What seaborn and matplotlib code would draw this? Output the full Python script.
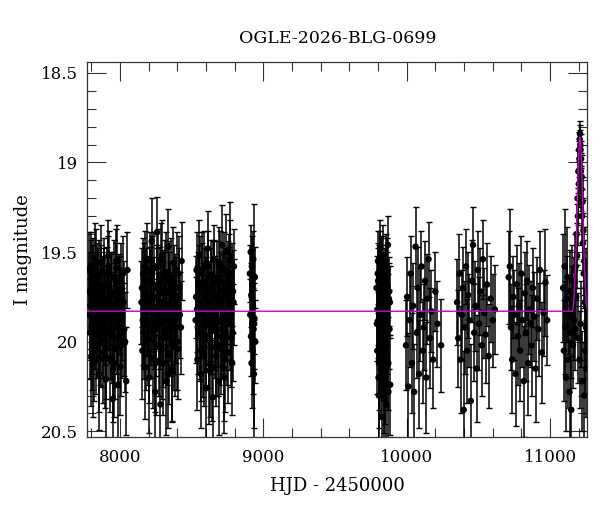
import numpy as np
import pandas as pd
import matplotlib
matplotlib.use("Agg")
import matplotlib.pyplot as plt
import seaborn as sns
from matplotlib.ticker import MultipleLocator, FormatStrFormatter

# observing seasons: HJD-2450000, I mag, error
t1 = [7786, 7791, 7795, 7800, 7804, 7809, 7813, 7818, 7823, 7828, 7832, 7838, 7843, 7849, 7854,
      7860, 7866, 7871, 7877, 7883, 7889, 7895, 7901, 7907, 7913, 7919, 7925, 7931, 7937, 7943,
      7949, 7955, 7961, 7967, 7973, 7979, 7985, 7991, 7997, 8003, 8010, 8017, 8025, 8036, 8052,
      7788, 7797, 7806, 7815, 7826, 7835, 7846, 7857, 7869, 7880, 7892, 7904, 7916, 7928, 7940,
      7952, 7964, 7976, 7988, 8000,
      7784, 7793, 7802, 7811, 7820, 7830, 7840, 7851, 7862, 7874, 7886, 7898, 7910, 7922, 7934,
      7946, 7958, 7970, 7982, 7994, 8007, 8014, 8021, 8030, 8044]
m1 = [19.72, 19.95, 19.58, 20.08, 19.81, 19.66, 20.12, 19.89, 19.54, 19.77, 20.02, 19.63, 19.91, 19.70, 20.18,
      19.84, 19.56, 19.99, 19.75, 20.06, 19.61, 19.88, 20.21, 19.69, 19.93, 19.52, 19.80, 20.10, 19.74, 19.97,
      20.32, 19.64, 19.86, 20.04, 19.59, 19.92, 20.24, 19.71, 19.83, 20.14, 19.67, 19.95, 19.78, 20.00, 19.60,
      19.85, 19.65, 20.00, 19.74, 19.90, 19.57, 19.82, 20.10, 19.68, 19.94, 19.76, 20.04, 19.62, 19.87, 19.72,
      20.15, 19.80, 19.55, 19.98, 19.75,
      19.60, 19.80, 19.92, 19.68, 20.05, 19.74, 19.86, 19.63, 19.97, 19.78, 19.70, 20.08, 19.83, 19.58, 19.95,
      19.73, 20.12, 19.66, 19.88, 19.76, 20.02, 19.85, 19.62, 19.93, 20.22]
e1 = [.22, .26, .19, .28, .21, .24, .30, .23, .20, .25, .27, .18, .29, .22, .31,
      .24, .21, .26, .23, .28, .19, .25, .32, .22, .27, .20, .24, .29, .23, .26,
      .30, .21, .25, .28, .22, .26, .31, .20, .24, .27, .22, .25, .23, .28, .21,
      .24, .22, .27, .21, .25, .20, .23, .29, .22, .26, .23, .28, .21, .25, .22,
      .30, .24, .20, .27, .23,
      .21, .24, .26, .22, .28, .23, .25, .20, .27, .24, .22, .29, .25, .20, .26,
      .23, .30, .21, .25, .23, .28, .25, .21, .26, .30]

t2 = [8150, 8156, 8162, 8168, 8174, 8180, 8186, 8192, 8198, 8204, 8210, 8216, 8222, 8228, 8234,
      8240, 8246, 8252, 8258, 8264, 8270, 8276, 8282, 8288, 8294, 8300, 8306, 8312, 8318, 8324,
      8330, 8336, 8342, 8348, 8354, 8360, 8366, 8372, 8378, 8384, 8390, 8397, 8405, 8414, 8425,
      8153, 8165, 8177, 8189, 8201, 8213, 8225, 8237, 8249, 8261, 8273, 8285, 8297, 8309, 8321,
      8333, 8345, 8357, 8369, 8381,
      8159, 8171, 8183, 8195, 8207, 8219, 8231, 8243, 8255, 8267, 8279, 8291, 8303, 8315, 8327,
      8339, 8351, 8363, 8375, 8387, 8393, 8401, 8409, 8418, 8430]
m2 = [19.78, 20.05, 19.62, 19.90, 20.14, 19.70, 19.55, 19.98, 19.83, 20.20, 19.66, 19.88, 19.44, 20.09, 19.75,
      19.59, 20.28, 19.93, 19.39, 19.81, 20.02, 19.68, 20.35, 19.86, 19.52, 20.12, 19.73, 19.96, 19.61, 20.22,
      19.84, 19.47, 20.07, 19.79, 19.64, 20.16, 19.91, 19.56, 20.00, 19.74, 19.87, 19.60, 20.04, 19.70, 19.92,
      19.70, 19.95, 19.58, 19.84, 20.06, 19.76, 19.62, 19.90, 20.12, 19.68, 19.86, 19.54, 19.98, 19.72, 19.88,
      20.18, 19.66, 19.93, 19.80, 20.03,
      19.88, 19.66, 20.00, 19.75, 19.60, 19.94, 19.82, 20.10, 19.70, 19.57, 19.90, 20.04, 19.78, 19.64, 19.97,
      19.72, 19.86, 20.14, 19.68, 19.92, 19.76, 20.00, 19.62, 19.85, 19.55]
e2 = [.23, .27, .20, .25, .29, .22, .21, .26, .24, .31, .19, .25, .24, .28, .22,
      .20, .32, .26, .20, .23, .28, .21, .30, .25, .20, .29, .23, .27, .22, .30,
      .24, .21, .28, .23, .22, .29, .26, .20, .27, .23, .25, .21, .28, .22, .26,
      .22, .26, .20, .24, .28, .23, .21, .25, .29, .22, .25, .20, .27, .23, .24,
      .30, .22, .26, .24, .27,
      .25, .21, .27, .23, .21, .26, .24, .29, .22, .20, .25, .28, .23, .21, .27,
      .22, .25, .30, .22, .26, .23, .27, .21, .24, .22]

t3 = [8528, 8534, 8540, 8546, 8552, 8558, 8564, 8570, 8576, 8582, 8588, 8594, 8600, 8606, 8612,
      8618, 8624, 8630, 8636, 8642, 8648, 8654, 8660, 8666, 8672, 8678, 8684, 8690, 8696, 8702,
      8708, 8714, 8720, 8726, 8732, 8738, 8744, 8750, 8756, 8762, 8768, 8774, 8780, 8786, 8792,
      8531, 8543, 8555, 8567, 8579, 8591, 8603, 8615, 8627, 8639, 8651, 8663, 8675, 8687, 8699,
      8711, 8723, 8735, 8747, 8759,
      8537, 8549, 8561, 8573, 8585, 8597, 8609, 8621, 8633, 8645, 8657, 8669, 8681, 8693, 8705,
      8717, 8729, 8741, 8753, 8765, 8771, 8777, 8783, 8789, 8795]
m3 = [19.88, 19.60, 20.10, 19.73, 19.52, 19.96, 20.18, 19.67, 19.84, 20.04, 19.57, 19.91, 20.26, 19.70, 19.48,
      19.99, 19.79, 20.13, 19.63, 19.86, 20.31, 19.54, 19.94, 19.75, 20.08, 19.65, 19.89, 20.22, 19.58, 19.81,
      20.02, 19.46, 19.92, 20.15, 19.71, 19.50, 19.97, 19.77, 20.06, 19.62, 19.55, 19.85, 19.68, 19.95, 19.78,
      19.75, 19.92, 19.62, 20.05, 19.80, 19.70, 19.97, 19.58, 19.86, 20.14, 19.66, 19.90, 19.78, 20.02, 19.72,
      19.88, 19.60, 20.10, 19.83, 19.69,
      19.82, 19.68, 19.95, 19.60, 20.08, 19.76, 19.88, 20.16, 19.70, 19.92, 19.64, 20.03, 19.80, 19.56, 19.97,
      19.74, 20.20, 19.85, 19.66, 19.90, 19.52, 19.98, 20.12, 19.72, 19.58]
e3 = [.24, .21, .28, .23, .20, .26, .30, .22, .25, .27, .19, .26, .31, .22, .21,
      .27, .24, .29, .20, .25, .32, .19, .26, .23, .28, .21, .25, .30, .20, .24,
      .27, .22, .26, .29, .23, .21, .27, .24, .28, .22, .33, .25, .23, .27, .24,
      .23, .26, .21, .28, .24, .22, .27, .20, .25, .30, .22, .26, .24, .28, .22,
      .25, .21, .29, .24, .22,
      .24, .22, .26, .21, .28, .23, .25, .30, .22, .26, .21, .27, .24, .20, .27,
      .23, .31, .25, .22, .26, .20, .27, .29, .23, .21]

t4 = [8906, 8909, 8912, 8914, 8916, 8918, 8920, 8922, 8924, 8926, 8928, 8930, 8932, 8934, 8936, 8938, 8941, 8944]
m4 = [19.62, 19.85, 19.50, 19.97, 19.74, 20.12, 19.58, 19.90, 19.68, 20.05, 19.80, 19.54, 19.93, 20.18, 19.90, 19.87, 19.64, 20.00]
e4 = [.16, .20, .15, .22, .18, .25, .17, .21, .19, .24, .18, .16, .22, .30, .67, .20, .17, .23]

t5 = [9790, 9795, 9800, 9803, 9806, 9809, 9812, 9815, 9818, 9821, 9824, 9827, 9830, 9833, 9836,
      9839, 9842, 9845, 9848, 9851, 9854, 9857, 9860, 9863, 9866, 9869, 9872, 9876, 9880, 9885,
      9797, 9801, 9807, 9813, 9819, 9825, 9831, 9837, 9843, 9849, 9855, 9861, 9867, 9873, 9878,
      9792, 9798, 9804, 9810, 9816, 9822, 9828, 9834, 9840, 9846, 9852, 9858, 9864, 9870, 9883]
m5 = [19.70, 20.05, 19.55, 19.88, 20.30, 19.64, 19.95, 19.48, 20.15, 19.78, 19.60, 20.42, 19.85, 19.52, 20.08,
      19.73, 19.98, 20.22, 19.66, 19.90, 19.57, 20.35, 19.81, 20.00, 19.69, 19.46, 20.12, 19.76, 19.93, 20.24,
      19.82, 19.66, 20.12, 19.75, 19.92, 19.58, 20.02, 19.70, 19.88, 20.18, 19.63, 19.95, 19.78, 20.28, 19.72,
      19.90, 19.62, 20.20, 19.80, 19.55, 20.04, 19.72, 19.96, 20.32, 19.68, 19.85, 20.10, 19.59, 19.93, 19.78]
e5 = [.18, .24, .17, .21, .30, .18, .23, .16, .27, .20, .18, .33, .22, .17, .25,
      .19, .23, .29, .18, .22, .17, .31, .21, .24, .19, .16, .26, .20, .22, .28,
      .20, .18, .26, .19, .22, .17, .24, .18, .21, .28, .17, .23, .20, .30, .19,
      .21, .17, .28, .20, .17, .24, .19, .23, .31, .18, .21, .26, .17, .22, .20]

t6 = [9995, 10003, 10012, 10020, 10028, 10037, 10045, 10053, 10062, 10070, 10078, 10087, 10095,
      10103, 10112, 10120, 10128, 10137, 10145, 10153, 10162, 10172, 10185, 10200, 10215, 10240]
m6 = [20.02, 19.75, 20.25, 19.88, 19.62, 20.12, 19.80, 20.28, 19.47, 19.95, 19.70, 20.18, 19.85,
      19.58, 20.05, 19.92, 19.66, 20.20, 19.76, 19.54, 19.98, 19.83, 20.10, 19.72, 19.90, 20.02]
e6 = [.25, .22, .30, .26, .21, .28, .24, .27, .22, .25, .23, .30, .26,
      .20, .29, .24, .22, .31, .25, .21, .28, .23, .27, .22, .24, .26]

t7 = [10352, 10360, 10368, 10376, 10384, 10392, 10398, 10406, 10414, 10422, 10430, 10438, 10447, 10455, 10463,
      10471, 10480, 10488, 10496, 10505, 10514, 10523, 10532, 10541, 10550, 10560, 10572, 10585, 10600, 10615]
m7 = [19.78, 19.98, 19.62, 20.10, 19.85, 19.70, 20.38, 19.92, 19.58, 20.05, 19.74, 19.88, 20.33, 19.66, 19.46,
      19.95, 19.80, 20.15, 19.60, 19.90, 19.72, 20.02, 19.54, 19.84, 19.96, 19.68, 20.08, 19.76, 19.88, 19.82]
e7 = [.24, .27, .22, .30, .25, .23, .33, .26, .21, .29, .24, .26, .32, .23, .21,
      .27, .25, .30, .22, .26, .24, .28, .22, .25, .27, .23, .29, .24, .26, .25]

t8 = [10712, 10720, 10728, 10736, 10744, 10752, 10760, 10768, 10776, 10784, 10792, 10800, 10808, 10816, 10824, 10832,
      10840, 10848, 10856, 10864, 10872, 10880, 10890, 10900, 10910, 10920, 10930, 10942, 10955, 10968, 10980]
m8 = [19.64, 19.58, 19.92, 20.10, 19.75, 19.85, 20.18, 19.68, 19.97, 19.80, 20.05, 19.62, 19.88, 20.22, 19.73, 19.95,
      19.66, 20.12, 19.82, 19.90, 20.02, 19.70, 19.86, 20.15, 19.76, 19.93, 19.60, 20.06, 19.84, 19.67, 19.88]
e8 = [.26, .32, .24, .30, .23, .25, .29, .22, .27, .24, .28, .21, .26, .31, .23, .27,
      .22, .29, .25, .24, .28, .22, .25, .30, .23, .26, .22, .28, .24, .30, .25]

# last season with the event
t9 = [11092, 11097, 11102, 11107, 11112, 11117, 11122, 11127, 11132, 11136, 11140, 11144, 11148, 11152, 11156,
      11160, 11164, 11168, 11172, 11176, 11180, 11183, 11186, 11189, 11192, 11195, 11196, 11198, 11201, 11203,
      11205, 11206, 11207, 11209, 11211, 11213, 11214, 11215, 11217, 11219, 11221, 11224, 11226, 11227, 11230,
      11233, 11236, 11238, 11239, 11242, 11245, 11248, 11251, 11254, 11257]
m9 = [19.70, 20.05, 19.58, 19.92, 20.20, 19.76, 19.64, 20.10, 19.85, 20.28, 19.72, 19.95, 20.38, 19.80, 19.66,
      20.02, 19.74, 19.88, 19.60, 19.93, 19.58, 19.75, 19.40, 19.52, 19.20, 19.30, 19.98, 19.05, 19.12, 18.93,
      18.98, 20.10, 18.87, 18.84, 18.90, 18.93, 19.90, 19.05, 18.98, 19.15, 19.08, 19.30, 20.22, 19.22, 19.45,
      19.38, 19.62, 20.30, 19.55, 19.78, 20.05, 19.70, 19.92, 20.15, 19.80]
e9 = [.30, .28, .32, .26, .30, .24, .28, .27, .22, .29, .23, .25, .30, .22, .20,
      .24, .21, .22, .20, .23, .19, .21, .17, .18, .15, .16, .25, .12, .13, .10,
      .10, .27, .08, .07, .08, .09, .24, .10, .10, .12, .12, .15, .28, .14, .17,
      .17, .19, .30, .19, .22, .25, .22, .24, .27, .23]

# point-lens model curve
t_model = [7772, 11157, 11164, 11169, 11174, 11179, 11184, 11189, 11193, 11197, 11201, 11205,
           11209, 11213, 11217, 11221, 11225, 11229, 11234, 11239, 11244, 11249, 11254, 11260]
m_model = [19.83, 19.83, 19.79, 19.73, 19.65, 19.55, 19.42, 19.27, 19.14, 19.02, 18.94, 18.88,
           18.86, 18.88, 18.94, 19.02, 19.14, 19.27, 19.42, 19.55, 19.65, 19.73, 19.79, 19.82]

df = pd.DataFrame({
    "hjd": t1 + t2 + t3 + t4 + t5 + t6 + t7 + t8 + t9,
    "mag": m1 + m2 + m3 + m4 + m5 + m6 + m7 + m8 + m9,
    "err": e1 + e2 + e3 + e4 + e5 + e6 + e7 + e8 + e9,
})
model = pd.DataFrame({"hjd": t_model, "mag": m_model})

sns.set_style("ticks")
plt.rcParams["font.family"] = ["DejaVu Serif"]
plt.rcParams["text.color"] = "black"
plt.rcParams["axes.labelcolor"] = "black"

fig = plt.figure(figsize=(6.0, 5.12), dpi=100)
ax = fig.add_axes([0.1455, 0.147, 0.8333, 0.7318])

ax.errorbar(df["hjd"], df["mag"], yerr=df["err"], fmt="none", ecolor="black",
            elinewidth=1.1, capsize=2.0, capthick=1.0, zorder=2)
sns.scatterplot(data=df, x="hjd", y="mag", color="black", s=22, edgecolor="none",
                ax=ax, zorder=3, legend=False)
sns.lineplot(data=model, x="hjd", y="mag", color="#cc00cc", linewidth=1.0,
             estimator=None, sort=False, ax=ax, zorder=4)

ax.set_xlim(7772, 11260)
ax.set_ylim(20.53, 18.44)

ax.xaxis.set_major_locator(MultipleLocator(1000))
ax.xaxis.set_minor_locator(MultipleLocator(200))
ax.yaxis.set_major_locator(MultipleLocator(0.5))
ax.yaxis.set_minor_locator(MultipleLocator(0.1))
ax.yaxis.set_major_formatter(FormatStrFormatter("%g"))

ax.tick_params(which="both", direction="in", top=True, right=True, colors="#333333",
               labelcolor="black", labelsize=12, width=0.8)
ax.tick_params(which="major", length=13.5)
ax.tick_params(which="minor", length=6.5)
ax.tick_params(axis="x", pad=9)
ax.tick_params(axis="y", pad=7)
for s in ax.spines.values():
    s.set_color("#333333")
    s.set_linewidth(0.9)

ax.set_title("OGLE-2026-BLG-0699", fontsize=12.5, pad=14, color="black")
ax.set_xlabel("HJD - 2450000", fontsize=13, labelpad=8)
ax.set_ylabel("I magnitude", fontsize=13, labelpad=6)

fig.savefig("out.png", dpi=100)
